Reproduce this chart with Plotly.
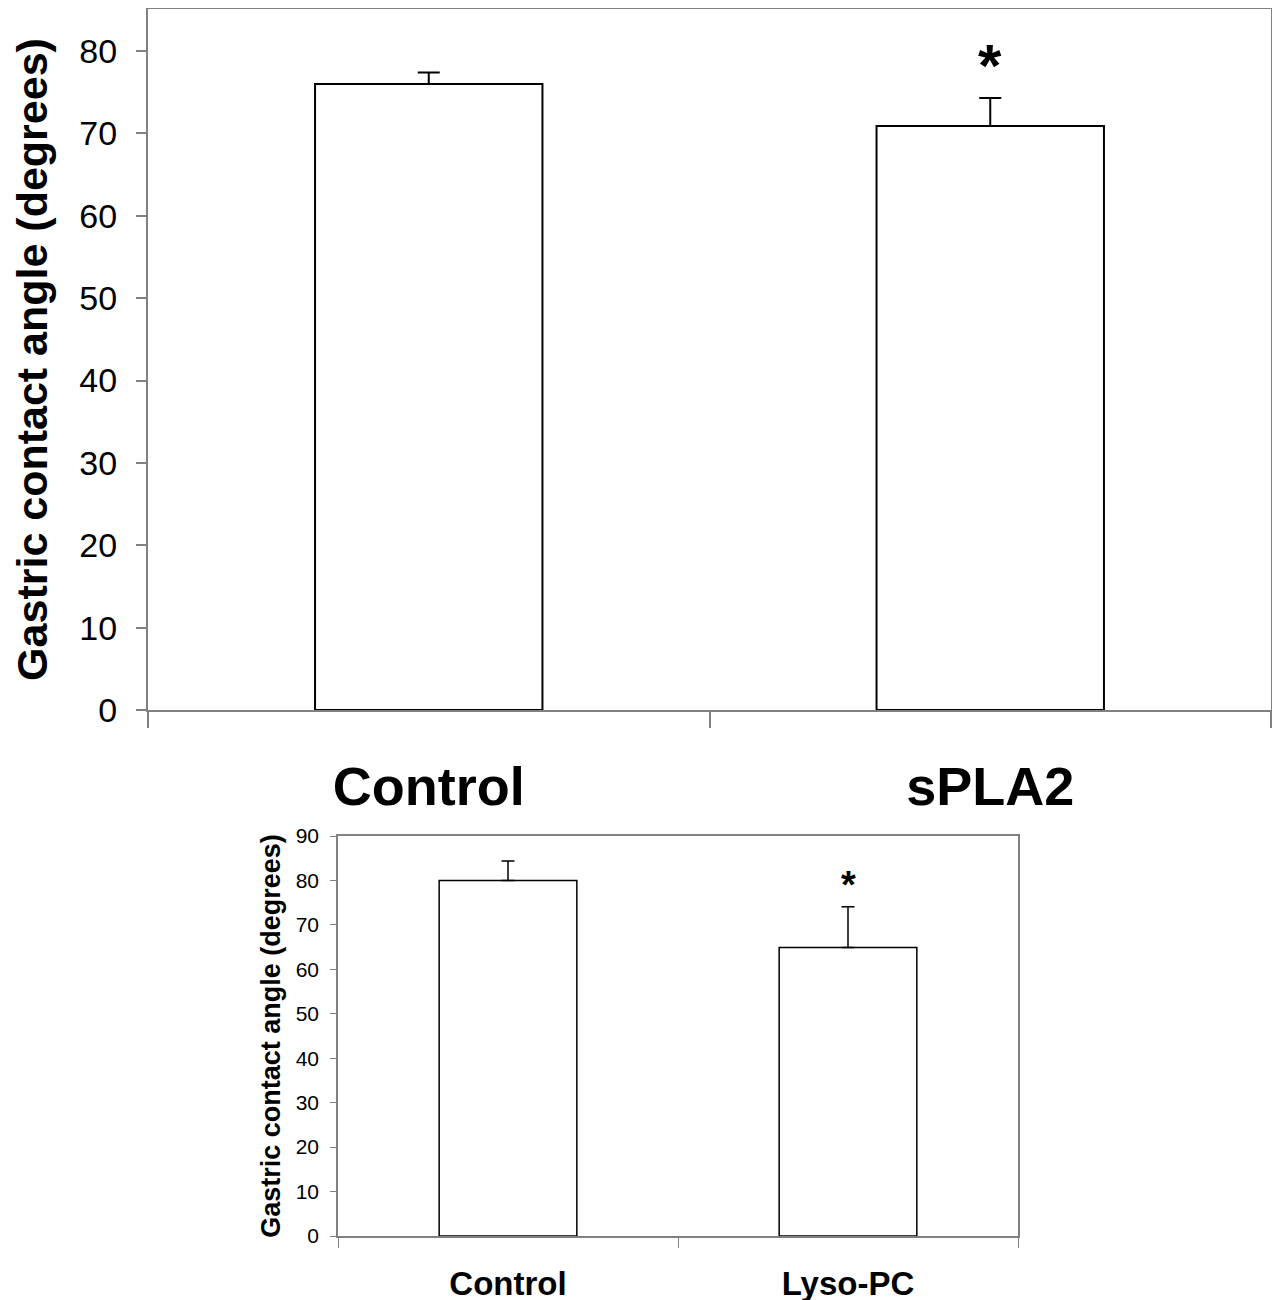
import plotly.graph_objects as go

# Top panel data
top_categories = ["Control", "sPLA2"]
top_values = [76.0, 70.9]
top_errors = [1.4, 3.4]
top_significant = [False, True]
top_yticks = [0, 10, 20, 30, 40, 50, 60, 70, 80]

# Bottom panel data
bottom_categories = ["Control", "Lyso-PC"]
bottom_values = [80.0, 64.9]
bottom_errors = [4.4, 9.2]
bottom_significant = [False, True]
bottom_yticks = [0, 10, 20, 30, 40, 50, 60, 70, 80, 90]

FONT = "Liberation Sans, Arial, sans-serif"
GRAY = "#808080"
W, H = 1280, 1300
OFF = 8  # page offset of the plot div


def xdom(a, b):
    return [(a - OFF) / W, (b - OFF) / W]


def ydom(top, bottom):
    return [(H - (bottom - OFF)) / H, (H - (top - OFF)) / H]


fig = go.Figure()

fig.add_trace(go.Bar(
    x=top_categories, y=top_values, width=0.405,
    marker=dict(color="white", line=dict(color="black", width=2)),
    error_y=dict(type="data", symmetric=False, array=top_errors,
                 arrayminus=[0] * len(top_errors), color="black",
                 thickness=2, width=11),
    xaxis="x", yaxis="y", showlegend=False,
))
fig.add_trace(go.Bar(
    x=bottom_categories, y=bottom_values, width=0.405,
    marker=dict(color="white", line=dict(color="black", width=1.5)),
    error_y=dict(type="data", symmetric=False, array=bottom_errors,
                 arrayminus=[0] * len(bottom_errors), color="black",
                 thickness=1.5, width=6.5),
    xaxis="x2", yaxis="y2", showlegend=False,
))

annotations = []
for c, v, e, s in zip(top_categories, top_values, top_errors, top_significant):
    if s:
        annotations.append(dict(x=c, y=v + e, xref="x", yref="y", text="<b>*</b>",
                                showarrow=False, yanchor="middle", yshift=32,
                                font=dict(family=FONT, size=60, color="black")))
for c, v, e, s in zip(bottom_categories, bottom_values, bottom_errors, bottom_significant):
    if s:
        annotations.append(dict(x=c, y=v + e, xref="x2", yref="y2", text="<b>*</b>",
                                showarrow=False, yanchor="middle", yshift=22,
                                font=dict(family=FONT, size=38, color="black")))

fig.update_layout(
    width=W, height=H, autosize=False,
    margin=dict(l=0, r=0, t=0, b=0, pad=0),
    paper_bgcolor="white", plot_bgcolor="white",
    font=dict(family=FONT, color="black"),
    bargap=0.6,
    annotations=annotations,
    xaxis=dict(
        domain=xdom(148, 1271), anchor="y", automargin=False,
        showline=True, linecolor=GRAY, linewidth=2, mirror=True,
        ticks="outside", tickson="boundaries", ticklen=16, tickcolor=GRAY, tickwidth=1.5,
        tickfont=dict(family=FONT, size=54, color="black"),
        ticklabelstandoff=28,
        showgrid=False, zeroline=False,
        tickprefix="<b>", ticksuffix="</b>",
    ),
    yaxis=dict(
        domain=ydom(9, 710), anchor="x", automargin=False,
        range=[0, 85.1], tickvals=top_yticks,
        showline=True, linecolor=GRAY, linewidth=2, mirror=True,
        ticks="outside", ticklen=10, tickcolor=GRAY, tickwidth=1.5,
        tickfont=dict(family=FONT, size=34, color="black"),
        ticklabelstandoff=12,
        showgrid=False, zeroline=False,
        title=dict(text="<b>Gastric contact angle (degrees)</b>",
                   font=dict(family=FONT, size=43, color="black"), standoff=24),
    ),
    xaxis2=dict(
        domain=xdom(338, 1018), anchor="y2", automargin=False,
        showline=True, linecolor=GRAY, linewidth=1.5, mirror=True,
        ticks="outside", tickson="boundaries", ticklen=10, tickcolor=GRAY, tickwidth=1,
        tickfont=dict(family=FONT, size=33, color="black"),
        ticklabelstandoff=18,
        showgrid=False, zeroline=False,
        tickprefix="<b>", ticksuffix="</b>",
    ),
    yaxis2=dict(
        domain=ydom(836, 1236), anchor="x2", automargin=False,
        range=[0, 90], tickvals=bottom_yticks,
        showline=True, linecolor=GRAY, linewidth=1.5, mirror=True,
        ticks="outside", ticklen=6, tickcolor=GRAY, tickwidth=1,
        tickfont=dict(family=FONT, size=21, color="black"),
        ticklabelstandoff=7,
        showgrid=False, zeroline=False,
        title=dict(text="<b>Gastric contact angle (degrees)</b>",
                   font=dict(family=FONT, size=27, color="black"), standoff=7),
    ),
)

fig.write_html("out.html")
